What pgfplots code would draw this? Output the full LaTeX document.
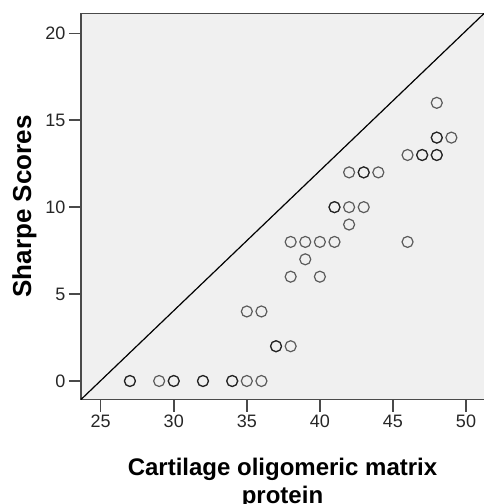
\documentclass[border=0pt]{standalone}
\usepackage{fontspec}
\setmainfont{Liberation Sans}
\usepackage{pgfplots}
\pgfplotsset{compat=1.18}
\definecolor{bgray}{HTML}{F0F0F0}
\definecolor{axgray}{HTML}{4A4A4A}
\begin{document}
\begin{tikzpicture}
\begin{axis}[
  at={(81pt,104.5pt)}, anchor=south west,
  scale only axis, width=406pt, height=386pt,
  xmin=23.652, xmax=51.437, ymin=-1.064, ymax=21.139,
  axis background/.style={fill=bgray},
  axis line style={draw=axgray, line width=1.8pt},
  xtick={25,30,35,40,45,50}, ytick={0,5,10,15,20},
  tick pos=left, tick align=outside,
  major tick length=12pt,
  tick style={draw=axgray, line width=1.6pt},
  ticklabel style={font=\fontsize{18}{20}\selectfont, text=black!85},
  /pgf/number format/assume math mode=true,
  xlabel={Cartilage oligomeric matrix\\protein},
  ylabel={Sharpe Scores},
  xlabel style={at={(axis description cs:0.5,-0.1516)}, anchor=north, inner sep=0pt, align=center, xshift=-1.5pt, font=\fontsize{24}{28}\bfseries\selectfont},
  ylabel style={at={(axis description cs:-0.1700,0.5)}, anchor=north, rotate=0, inner sep=0pt, yshift=0pt, font=\fontsize{26}{30}\bfseries\selectfont},
  clip=false,
]
\addplot[black, line width=1.2pt] coordinates {(23.652,-1.064) (51.232,21.139)};
\addplot[only marks, mark=o, mark size=5.5pt, mark options={draw=black, draw opacity=0.62, line width=1.2pt}] coordinates {
(27,0) (27,0) (29,0) (30,0) (30,0) (32,0) (32,0) (34,0) (34,0) (35,0) (36,0)
(37,2) (37,2) (38,2)
(35,4) (36,4)
(38,6) (40,6)
(39,7)
(38,8) (39,8) (40,8) (41,8) (46,8)
(42,9)
(41,10) (41,10) (42,10) (43,10)
(42,12) (43,12) (43,12) (44,12)
(46,13) (47,13) (47,13) (48,13) (48,13)
(48,14) (48,14) (49,14)
(48,16)
};
\end{axis}
\pgfresetboundingbox
\useasboundingbox (0,0) rectangle (484pt,504pt);
\end{tikzpicture}
\end{document}
